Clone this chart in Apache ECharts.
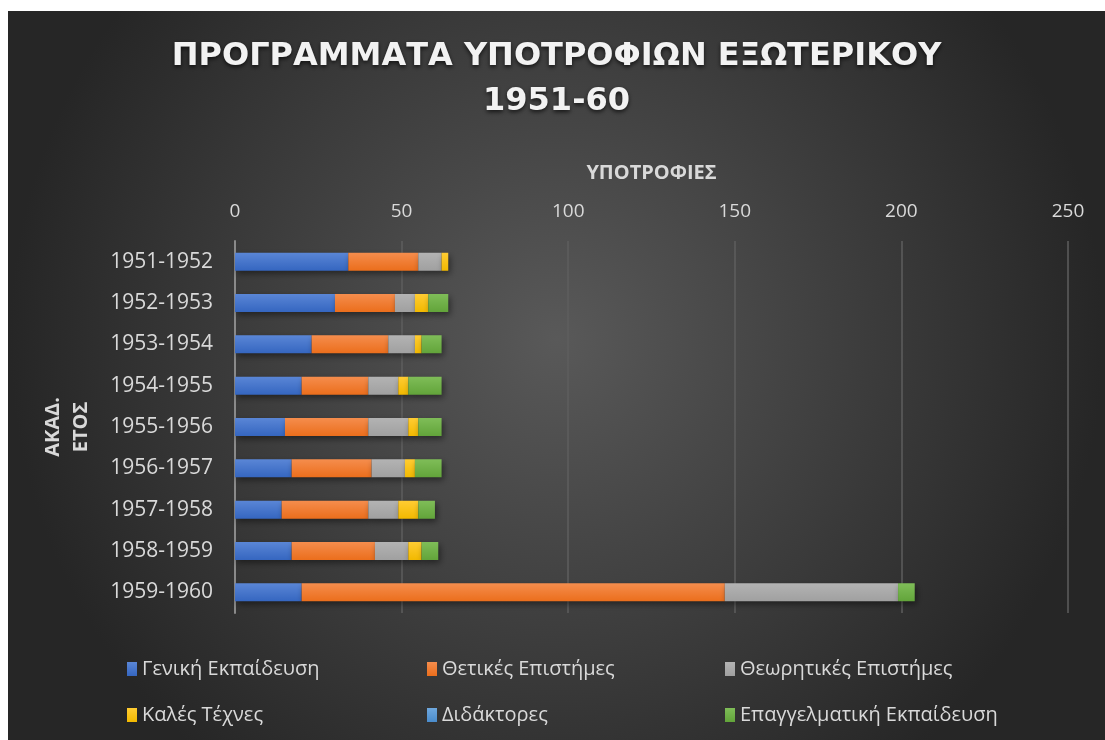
<!DOCTYPE html>
<html>
<head>
<meta charset="utf-8">
<script src="https://cdn.jsdelivr.net/npm/echarts@6/dist/echarts.min.js"></script>
<style>
  html, body { margin: 0; padding: 0; background: #ffffff; }
  #main { position: absolute; left: 8px; top: 11px; width: 1097px; height: 729px; }
</style>
</head>
<body>
<div id="main"></div>
<script>
// ακαδημαϊκά έτη
var years = ['1951-1952', '1952-1953', '1953-1954', '1954-1955', '1955-1956',
             '1956-1957', '1957-1958', '1958-1959', '1959-1960'];
var seriesNames = ['Γενική Εκπαίδευση', 'Θετικές Επιστήμες', 'Θεωρητικές Επιστήμες',
                   'Καλές Τέχνες', 'Διδάκτορες', 'Επαγγελματική Εκπαίδευση'];
var geniki      = [34, 30, 23, 20, 15, 17, 14, 17, 20];
var thetikes    = [21, 18, 23, 20, 25, 24, 26, 25, 127];
var theoritikes = [7, 6, 8, 9, 12, 10, 9, 10, 52];
var kalesTexnes = [2, 4, 2, 3, 3, 3, 6, 4, 0];
var didaktores  = [0, 0, 0, 0, 0, 0, 0, 0, 0];
var epaggelm    = [0, 6, 6, 10, 7, 8, 5, 5, 5];
var xTicks = [0, 50, 100, 150, 200, 250];

var colors = [
  ['#5a86d6', '#3566c0'],
  ['#f58d4d', '#eb6e1c'],
  ['#b3b3b3', '#a0a0a0'],
  ['#ffcc33', '#f2b900'],
  ['#6fa8de', '#4a8ccc'],
  ['#7fbd58', '#62a43a']
];
var allData = [geniki, thetikes, theoritikes, kalesTexnes, didaktores, epaggelm];

var series = seriesNames.map(function (name, i) {
  return {
    name: name,
    type: 'bar',
    stack: 'total',
    barWidth: 18,
    data: allData[i],
    itemStyle: {
      color: new echarts.graphic.LinearGradient(0, 0, 0, 1, [
        { offset: 0, color: colors[i][0] },
        { offset: 1, color: colors[i][1] }
      ]),
      shadowBlur: 6,
      shadowOffsetY: 3,
      shadowOffsetX: 2,
      shadowColor: 'rgba(0,0,0,0.45)'
    }
  };
});

// υπόμνημα σε 2 σειρές x 3 στήλες
var legendPos = [[114, 643], [414, 643], [712, 643], [114, 689], [414, 689], [712, 689]];
var legends = seriesNames.map(function (name, i) {
  return {
    data: [{ name: name, icon: 'rect' }],
    left: legendPos[i][0],
    top: legendPos[i][1],
    itemWidth: 10,
    itemHeight: 14,
    itemGap: 6,
    selectedMode: false,
    textStyle: { color: '#d9d9d9', fontSize: 20, fontFamily: 'Open Sans' }
  };
});

var option = {
  backgroundColor: new echarts.graphic.RadialGradient(0.5, 0.45, 0.75, [
    { offset: 0, color: '#595959' },
    { offset: 1, color: '#262626' }
  ]),
  title: {
    text: 'ΠΡΟΓΡΑΜΜΑΤΑ ΥΠΟΤΡΟΦΙΩΝ ΕΞΩΤΕΡΙΚΟΥ\n1951-60',
    left: 'center',
    top: 18,
    textStyle: {
      color: '#f2f2f2',
      fontSize: 32,
      fontWeight: 'bold',
      fontFamily: 'DejaVu Sans',
      lineHeight: 45,
      textShadowColor: 'rgba(0,0,0,0.7)',
      textShadowBlur: 4,
      textShadowOffsetY: 2
    }
  },
  legend: legends,
  grid: { left: 227, right: 37, top: 230, bottom: 127 },
  xAxis: {
    type: 'value',
    position: 'top',
    min: 0,
    max: 250,
    interval: 50,
    name: 'ΥΠΟΤΡΟΦΙΕΣ',
    nameLocation: 'middle',
    nameGap: 58,
    nameTextStyle: { color: '#d9d9d9', fontSize: 20, fontWeight: 'bold', fontFamily: 'Open Sans' },
    axisLine: { show: false },
    axisTick: { show: false },
    axisLabel: {
      color: '#d9d9d9', fontSize: 19, fontFamily: 'Open Sans', margin: 20,
      formatter: function (v) { return xTicks.indexOf(v) >= 0 ? String(v) : ''; }
    },
    splitLine: { lineStyle: { color: '#5e5e5e', width: 1.5 } }
  },
  yAxis: {
    type: 'category',
    inverse: true,
    data: years,
    name: 'ΑΚΑΔ.\nΕΤΟΣ',
    nameLocation: 'middle',
    nameRotate: 90,
    nameGap: 140,
    nameTextStyle: { color: '#d9d9d9', fontSize: 20, fontWeight: 'bold', fontFamily: 'Open Sans', lineHeight: 28 },
    axisLine: { lineStyle: { color: '#8a8a8a', width: 2 } },
    axisTick: { show: false },
    axisLabel: { color: '#d9d9d9', fontSize: 21, fontFamily: 'Open Sans', margin: 22 }
  },
  series: series
};

var chart = echarts.init(document.getElementById('main'));
chart.setOption(option);
</script>
</body>
</html>
